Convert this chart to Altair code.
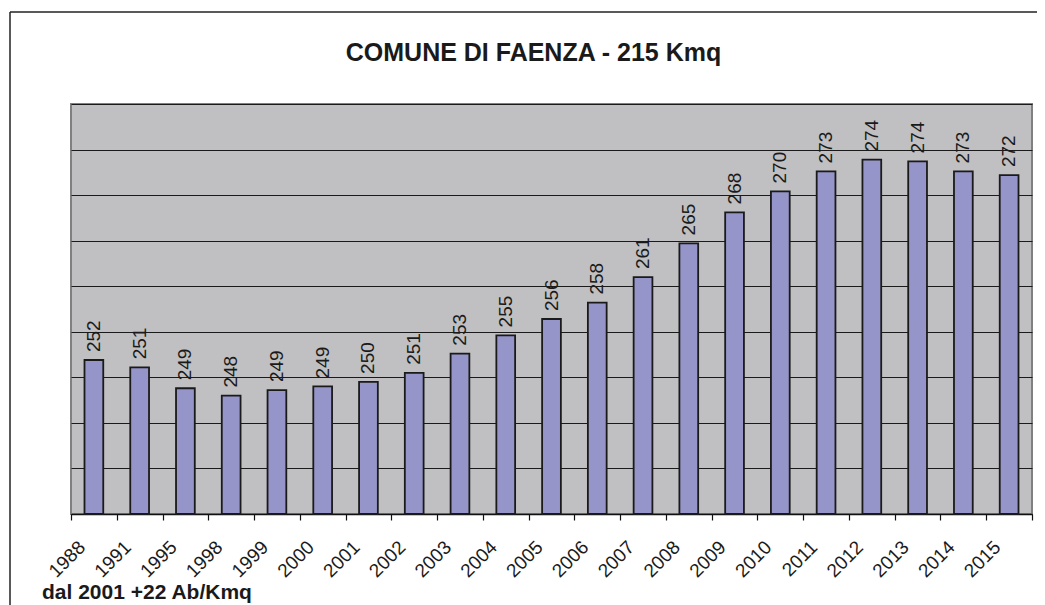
import altair as alt
import pandas as pd

years = ["1988", "1991", "1995", "1998", "1999", "2000", "2001", "2002", "2003", "2004",
         "2005", "2006", "2007", "2008", "2009", "2010", "2011", "2012", "2013", "2014", "2015"]
density = [251.9, 251.1, 248.8, 248.0, 248.6, 249.0, 249.5, 250.5, 252.6, 254.6,
           256.4, 258.2, 261.0, 264.7, 268.1, 270.4, 272.6, 273.9, 273.7, 272.6, 272.2]
labels = ["252", "251", "249", "248", "249", "249", "250", "251", "253", "255",
          "256", "258", "261", "265", "268", "270", "273", "274", "274", "273", "272"]

title_text = "COMUNE DI FAENZA - 215 Kmq"
note_text = "dal 2001 +22 Ab/Kmq"
y_min, y_max = 235, 280

df = pd.DataFrame({"anno": years, "densita": density, "etichetta": labels})
FONT = "Liberation Sans"
W, H = 961, 410

x_enc = alt.X("anno:N", sort=years, title=None,
              scale=alt.Scale(paddingInner=0, paddingOuter=0),
              axis=alt.Axis(labelAngle=-45, labelAlign="right", labelBaseline="alphabetic",
                            labelPadding=28, labelOffset=-8, labelFontSize=19, labelFont=FONT,
                            labelColor="#1a1a1a", tickBand="extent", tickSize=6, tickColor="#111",
                            tickWidth=1.2, domainColor="#111", domainWidth=1.5, grid=False,
                            labelOverlap=False))
y_enc = alt.Y("densita:Q", title=None,
              scale=alt.Scale(domain=[y_min, y_max], zero=False, nice=False),
              axis=alt.Axis(labels=False, ticks=False, domain=False, grid=True,
                            values=list(range(y_min, y_max + 1, 5)),
                            gridColor="#1a1a1a", gridWidth=1))

base = alt.Chart(df)

bars = base.mark_bar(color="#9595C9", stroke="#1a1a1a", strokeWidth=1.8,
                     width=alt.RelativeBandSize(0.41)).encode(
    x=x_enc, y=y_enc, y2=alt.datum(y_min))

texts = base.mark_text(angle=270, align="left", baseline="middle", dx=8,
                       fontSize=19, font=FONT, color="#1a1a1a").encode(
    x=alt.X("anno:N", sort=years), y=alt.Y("densita:Q"), text="etichetta:N")

one = alt.Chart(pd.DataFrame({"k": [0]}))
frame_top = one.mark_rule(color="#222", strokeWidth=1.5).encode(
    x=alt.value(-61), x2=alt.value(W + 10), y=alt.value(-92))
frame_left = one.mark_rule(color="#222", strokeWidth=1.5).encode(
    x=alt.value(-61), y=alt.value(-92), y2=alt.value(H + 100))
title = one.mark_text(align="center", baseline="alphabetic", fontSize=25, fontWeight="bold",
                      font=FONT, color="#1a1a1a").encode(
    x=alt.value(W / 2 - 18), y=alt.value(-43), text=alt.value(title_text))
note = one.mark_text(align="left", baseline="alphabetic", fontSize=21, fontWeight="bold",
                     font=FONT, color="#1a1a1a").encode(
    x=alt.value(-29), y=alt.value(H + 85), text=alt.value(note_text))

chart = alt.layer(frame_top, frame_left, bars, texts, title, note).properties(
    width=W, height=H,
    autosize=alt.AutoSizeParams(type="none"),
    padding={"left": 63, "top": 96, "right": 5, "bottom": 91},
).configure(background="white").configure_view(
    fill="#C0C0C2", stroke="#808080", strokeWidth=2
)

chart.save("out.html", embed_options={"renderer": "svg", "actions": False})
